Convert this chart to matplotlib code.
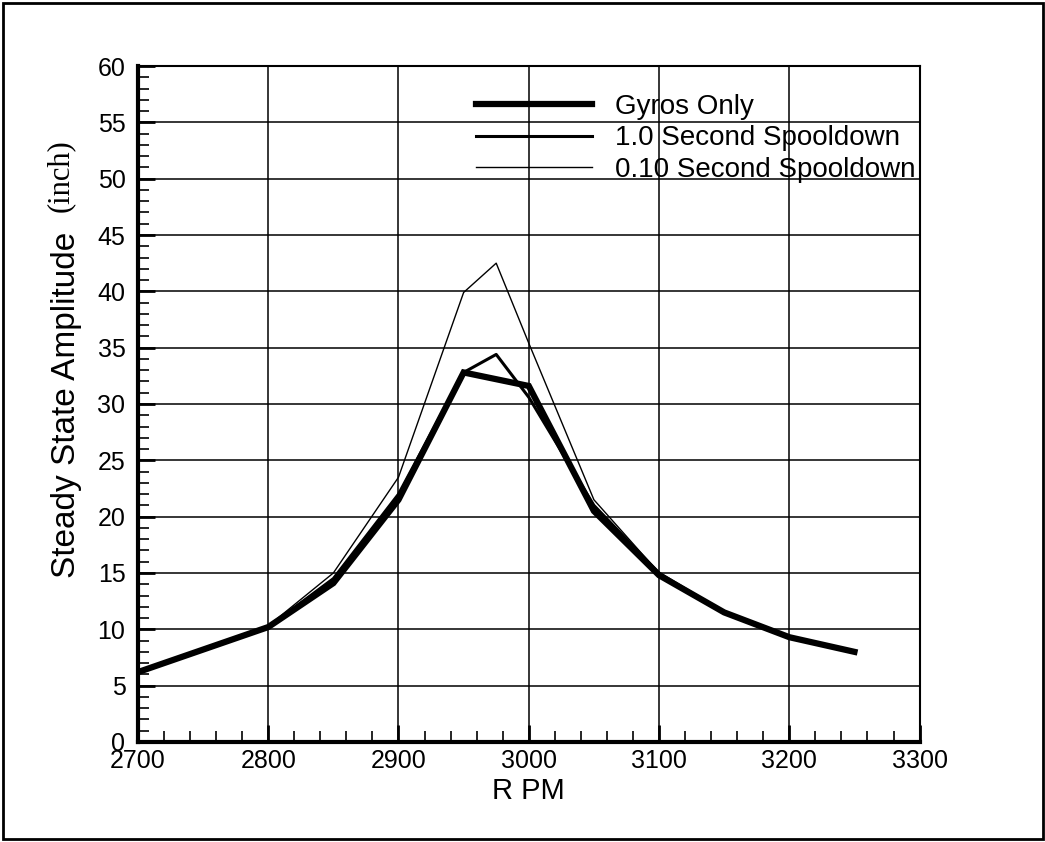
import matplotlib
matplotlib.use('Agg')
import matplotlib.pyplot as plt
from matplotlib.patches import Rectangle
from matplotlib.ticker import MultipleLocator

plt.rcParams['font.family'] = ['Liberation Sans', 'DejaVu Sans']

rpm = [2700, 2800, 2850, 2900, 2950, 2975, 3000, 3050, 3100, 3150, 3200, 3250]
gyros_only = [6.2, 10.2, 14.1, 21.5, 32.8, 32.2, 31.6, 20.5, 14.8, 11.5, 9.3, 8.0]
spool_1_0 = [6.2, 10.2, 14.5, 22.0, 32.8, 34.4, 30.6, 21.0, 15.0, 11.5, 9.3, 8.0]
spool_0_10 = [6.2, 10.3, 15.0, 23.5, 39.9, 42.5, 35.4, 21.5, 15.0, 11.5, 9.3, 8.0]

labels = ['Gyros Only', '1.0 Second Spooldown', '0.10 Second Spooldown']

fig = plt.figure(figsize=(10.45, 8.42), dpi=100)
ax = fig.add_axes([0.132, 0.1188, 0.748, 0.8028])

l1, = ax.plot(rpm, gyros_only, color='black', lw=4.5, solid_joinstyle='miter', zorder=5)
l2, = ax.plot(rpm, spool_1_0, color='black', lw=2.2, zorder=4)
l3, = ax.plot(rpm, spool_0_10, color='black', lw=1.0, zorder=3)

ax.set_xlim(2700, 3300)
ax.set_ylim(0, 60)
ax.xaxis.set_major_locator(MultipleLocator(100))
ax.xaxis.set_minor_locator(MultipleLocator(20))
ax.yaxis.set_major_locator(MultipleLocator(5))
ax.yaxis.set_minor_locator(MultipleLocator(1))
ax.grid(True, which='major', color='black', lw=1.1)
ax.tick_params(which='both', direction='in', top=False, right=False, colors='black', labelsize=18)
ax.tick_params(which='major', length=12, width=2)
ax.tick_params(which='minor', length=8, width=1.2)
ax.tick_params(axis='x', pad=5)
ax.tick_params(axis='y', pad=9)

for side in ['left', 'bottom']:
    ax.spines[side].set_linewidth(3)
for side in ['top', 'right']:
    ax.spines[side].set_linewidth(1.5)

ax.set_xlabel('R PM', fontsize=21, labelpad=3)
fig.text(0.064, 0.519, 'Steady State Amplitude', rotation=90, fontsize=24,
         ha='center', va='center')
fig.text(0.058, 0.791, '(inch)', rotation=90, fontsize=22, family='Liberation Serif',
         ha='center', va='center')

ax.legend([l1, l2, l3], labels, loc='upper left', bbox_to_anchor=(0.432, 0.959),
          frameon=False, fontsize=20, handlelength=4.2, handletextpad=0.8,
          labelspacing=0.2, borderpad=0, borderaxespad=0)

fig.patches.append(Rectangle((0.003, 0.004), 0.995, 0.993, transform=fig.transFigure,
                             fill=False, edgecolor='black', lw=2))

fig.savefig('out.png', dpi=100)
